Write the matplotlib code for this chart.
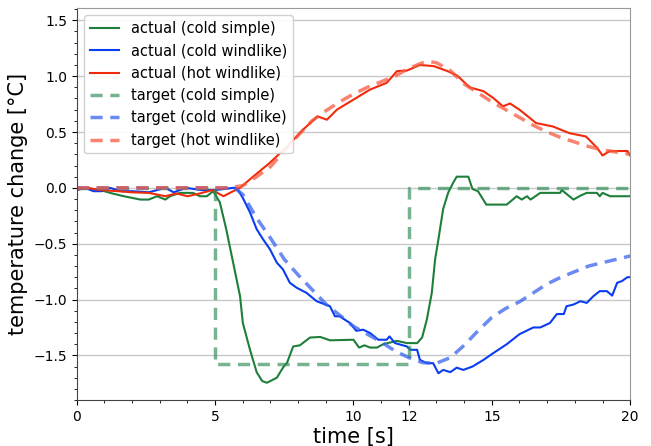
import numpy as np
import matplotlib
matplotlib.use('Agg')
import matplotlib.pyplot as plt
from matplotlib.ticker import MultipleLocator

# actual (cold simple)
t_green = [0.0, 0.8, 1.2, 1.7, 2.3, 2.6, 2.9, 3.2, 3.37, 3.72, 4.2, 4.45, 4.7, 4.93,
           5.17, 5.4, 5.65, 5.9, 6.0, 6.26, 6.5, 6.7, 6.87, 7.23, 7.45, 7.6, 7.82,
           8.06, 8.43, 8.8, 9.15, 10.0, 10.2, 10.4, 10.6, 10.85, 11.07, 11.57, 11.93,
           12.3, 12.48, 12.65, 12.83, 12.95, 13.07, 13.24, 13.42, 13.6, 13.73, 14.15,
           14.3, 14.5, 14.8, 15.54, 15.9, 16.08, 16.27, 16.4, 16.75, 17.47, 17.53,
           17.95, 18.2, 18.43, 18.8, 18.9, 19.0, 19.28, 20.0]
v_green = [0.0, -0.015, -0.045, -0.075, -0.105, -0.105, -0.075, -0.105, -0.075, -0.045,
           -0.045, -0.075, -0.075, -0.03, -0.13, -0.37, -0.67, -0.97, -1.21, -1.45,
           -1.65, -1.73, -1.745, -1.70, -1.61, -1.565, -1.42, -1.41, -1.34, -1.335,
           -1.365, -1.36, -1.43, -1.41, -1.43, -1.43, -1.40, -1.37, -1.39, -1.39,
           -1.34, -1.18, -0.94, -0.64, -0.46, -0.19, -0.045, 0.045, 0.10, 0.10,
           -0.01, -0.03, -0.15, -0.15, -0.075, -0.105, -0.075, -0.105, -0.045, -0.045,
           -0.02, -0.105, -0.07, -0.045, -0.045, -0.075, -0.045, -0.075, -0.075]

# actual (cold windlike)
t_blue = [0.0, 0.3, 0.6, 0.9, 1.2, 1.6, 2.0, 2.6, 3.2, 3.5, 3.95, 4.5, 5.0, 5.65, 5.78,
          6.0, 6.26, 6.5, 6.73, 6.98, 7.23, 7.45, 7.7, 7.95, 8.3, 8.67, 9.04, 9.15,
          9.33, 9.5, 9.87, 10.1, 10.35, 10.6, 10.9, 11.2, 11.3, 11.5, 11.93, 12.05,
          12.3, 12.4, 12.65, 12.88, 13.07, 13.24, 13.5, 13.73, 13.97, 14.3, 14.7,
          15.05, 15.54, 16.0, 16.5, 16.75, 17.1, 17.35, 17.6, 17.7, 17.95, 18.2,
          18.43, 18.67, 18.9, 19.16, 19.35, 19.53, 19.7, 19.9, 20.0]
v_blue = [-0.02, 0.0, -0.03, -0.03, 0.0, -0.03, -0.03, -0.04, 0.0, -0.04, 0.0, -0.02,
          -0.02, 0.0, 0.0, -0.09, -0.22, -0.37, -0.46, -0.55, -0.67, -0.73, -0.85,
          -0.895, -0.94, -1.015, -1.05, -1.06, -1.15, -1.15, -1.21, -1.28, -1.27,
          -1.30, -1.36, -1.36, -1.33, -1.39, -1.42, -1.45, -1.45, -1.54, -1.57, -1.57,
          -1.66, -1.63, -1.65, -1.61, -1.63, -1.60, -1.54, -1.48, -1.40, -1.31, -1.25,
          -1.25, -1.21, -1.13, -1.13, -1.06, -1.045, -1.015, -1.03, -0.97, -0.925,
          -0.925, -0.965, -0.85, -0.835, -0.80, -0.80]

# actual (hot windlike)
t_red = [0.0, 0.4, 0.83, 1.5, 2.0, 2.6, 3.2, 3.6, 4.0, 4.45, 4.9, 5.3, 5.65, 5.9, 6.37,
         6.98, 7.6, 8.17, 8.7, 9.04, 9.4, 10.0, 10.6, 11.2, 11.57, 11.93, 12.4, 12.9,
         13.4, 13.75, 14.2, 14.7, 15.05, 15.4, 15.66, 16.0, 16.6, 17.2, 17.8, 18.4,
         18.8, 19.0, 19.27, 19.9, 20.0]
v_red = [-0.015, 0.0, -0.02, -0.03, -0.04, -0.045, -0.075, -0.05, -0.075, -0.05, -0.02,
         -0.075, -0.03, 0.0, 0.10, 0.225, 0.37, 0.52, 0.64, 0.61, 0.70, 0.79, 0.88,
         0.94, 1.045, 1.05, 1.10, 1.09, 1.045, 1.005, 0.90, 0.865, 0.805, 0.73, 0.755,
         0.70, 0.58, 0.55, 0.49, 0.46, 0.36, 0.29, 0.33, 0.33, 0.29]

# target (cold simple)
t_green_target = [0.0, 5.0, 5.0, 12.0, 12.0, 20.0]
v_green_target = [0.0, 0.0, -1.575, -1.575, 0.0, 0.0]

# target (cold windlike)
t_blue_target = [0.0, 5.7, 6.0, 6.5, 7.0, 7.5, 8.0, 8.5, 9.0, 9.5, 10.0, 10.5, 11.0,
                 11.5, 12.0, 12.5, 13.0, 13.5, 14.0, 14.5, 15.0, 15.5, 16.0, 16.5,
                 17.0, 17.5, 18.0, 18.5, 19.0, 19.5, 20.0]
v_blue_target = [0.0, 0.0, -0.06, -0.27, -0.45, -0.64, -0.78, -0.91, -1.04, -1.14,
                 -1.24, -1.31, -1.38, -1.46, -1.52, -1.565, -1.57, -1.52, -1.41, -1.28,
                 -1.16, -1.08, -1.02, -0.94, -0.86, -0.80, -0.75, -0.70, -0.67, -0.64,
                 -0.61]

# target (hot windlike)
t_red_target = [0.0, 5.5, 6.0, 6.5, 7.0, 7.5, 8.0, 8.5, 9.0, 9.5, 10.0, 10.5, 11.0,
                11.5, 12.0, 12.5, 12.75, 13.0, 13.5, 14.0, 14.5, 15.0, 15.5, 16.0,
                16.5, 17.0, 17.5, 18.0, 18.5, 19.0, 19.5, 20.0]
v_red_target = [0.0, 0.0, 0.02, 0.10, 0.19, 0.33, 0.47, 0.60, 0.69, 0.77, 0.84, 0.90,
                0.95, 1.00, 1.07, 1.12, 1.13, 1.12, 1.05, 0.93, 0.85, 0.77, 0.70, 0.63,
                0.56, 0.50, 0.45, 0.41, 0.37, 0.34, 0.32, 0.30]

fig = plt.figure(figsize=(6.51, 4.46), dpi=100)
ax = fig.add_axes([0.118, 0.103, 0.850, 0.879])

ax.plot(t_green, v_green, color='#1e7f3a', lw=1.5, label='actual (cold simple)')
ax.plot(t_blue, v_blue, color='#0a3cf0', lw=1.5, label='actual (cold windlike)')
ax.plot(t_red, v_red, color='#f02a0a', lw=1.5, label='actual (hot windlike)')
ax.plot(t_green_target, v_green_target, color='#2e8b57', alpha=0.65, lw=2.5,
        ls=(0, (3.5, 2.2)), label='target (cold simple)')
ax.plot(t_blue_target, v_blue_target, color='#3a64f0', alpha=0.75, lw=2.5,
        ls=(0, (3.5, 2.2)), label='target (cold windlike)')
ax.plot(t_red_target, v_red_target, color='#f85a40', alpha=0.75, lw=2.5,
        ls=(0, (3.5, 2.2)), label='target (hot windlike)')

ax.set_xlim(0, 20)
ax.set_ylim(-1.9, 1.61)
ax.set_xticks([0, 5, 10, 12, 15, 20])
ax.xaxis.set_minor_locator(MultipleLocator(1))
ax.yaxis.set_minor_locator(MultipleLocator(0.1))
ax.tick_params(labelsize=10)
ax.grid(axis='y', which='major', color='#c8c8c8', lw=1)
ax.set_axisbelow(True)

for s in ['top', 'right']:
    ax.spines[s].set_color('#999999')
for s in ['left', 'bottom']:
    ax.spines[s].set_color('#444444')

ax.set_xlabel('time [s]', fontsize=15, labelpad=2)
ax.set_ylabel('temperature change [°C]', fontsize=15)
ax.legend(loc='upper left', fontsize=10.5, framealpha=0.9)

fig.savefig('out.png', dpi=100)
